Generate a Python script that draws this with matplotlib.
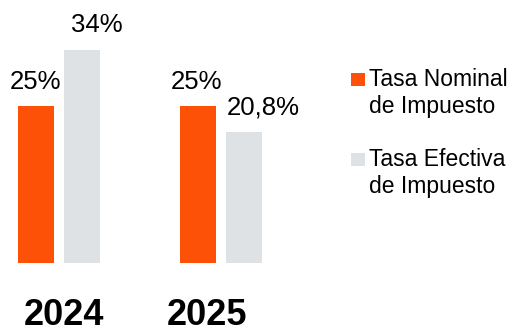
import matplotlib
matplotlib.use("Agg")
import matplotlib.pyplot as plt
from matplotlib.patches import Rectangle

plt.rcParams.update({"font.family": ["Liberation Sans", "DejaVu Sans"]})

years = ["2024", "2025"]
nominal = [25, 25]
efectiva = [34, 20.8]
nominal_lbl = ["25%", "25%"]
efectiva_lbl = ["34%", "20,8%"]
series_names = ["Tasa Nominal\nde Impuesto", "Tasa Efectiva\nde Impuesto"]

ORANGE = "#FD5108"
GREY = "#DFE2E5"
W, H = 517, 331


def fpx(x, y):
    # píxeles (origen arriba-izquierda) -> fracción de figura
    return x / W, 1 - y / H


fig = plt.figure(figsize=(W / 100, H / 100), dpi=100)
ax = fig.add_axes([0, 68 / H, 1, 251 / H])
ax.set_xlim(-59 / 162, 458 / 162)
ax.set_ylim(0, 40)
ax.axis("off")

bw, off = 0.228, 0.142
xs = list(range(len(years)))
ax.bar([x - off for x in xs], nominal, width=bw, color=ORANGE)
ax.bar([x + off for x in xs], efectiva, width=bw, color=GREY)

lbl_dx_n = [0, -0.8]
lbl_dx_e = [10.4, 14]
for i, x in enumerate(xs):
    ax.annotate(nominal_lbl[i], (x - off, nominal[i]), xytext=(lbl_dx_n[i], 12.6),
                textcoords="offset points", ha="center", va="baseline", fontsize=18.5)
    ax.annotate(efectiva_lbl[i], (x + off, efectiva[i]), xytext=(lbl_dx_e[i], 12.6),
                textcoords="offset points", ha="center", va="baseline", fontsize=18.5)

yr_dx = [3.6, -10]
for i, x in enumerate(xs):
    ax.annotate(years[i], (x, 0), xytext=(yr_dx[i], -44.6), textcoords="offset points",
                ha="center", va="baseline", fontsize=26, fontweight="bold")

# leyenda manual: cuadro + dos líneas de texto
for name, col, sq_top, base in [(series_names[0], ORANGE, 73, 86),
                                (series_names[1], GREY, 153, 166)]:
    x0, y0 = fpx(351, sq_top + 12.5)
    fig.add_artist(Rectangle((x0, y0), 13.5 / W, 12.5 / H, transform=fig.transFigure,
                             color=col, lw=0))
    for j, line in enumerate(name.split("\n")):
        tx, ty = fpx(369, base + 27 * j)
        fig.text(tx, ty, line, ha="left", va="baseline", fontsize=16.5)

fig.savefig("out.png", dpi=100)
